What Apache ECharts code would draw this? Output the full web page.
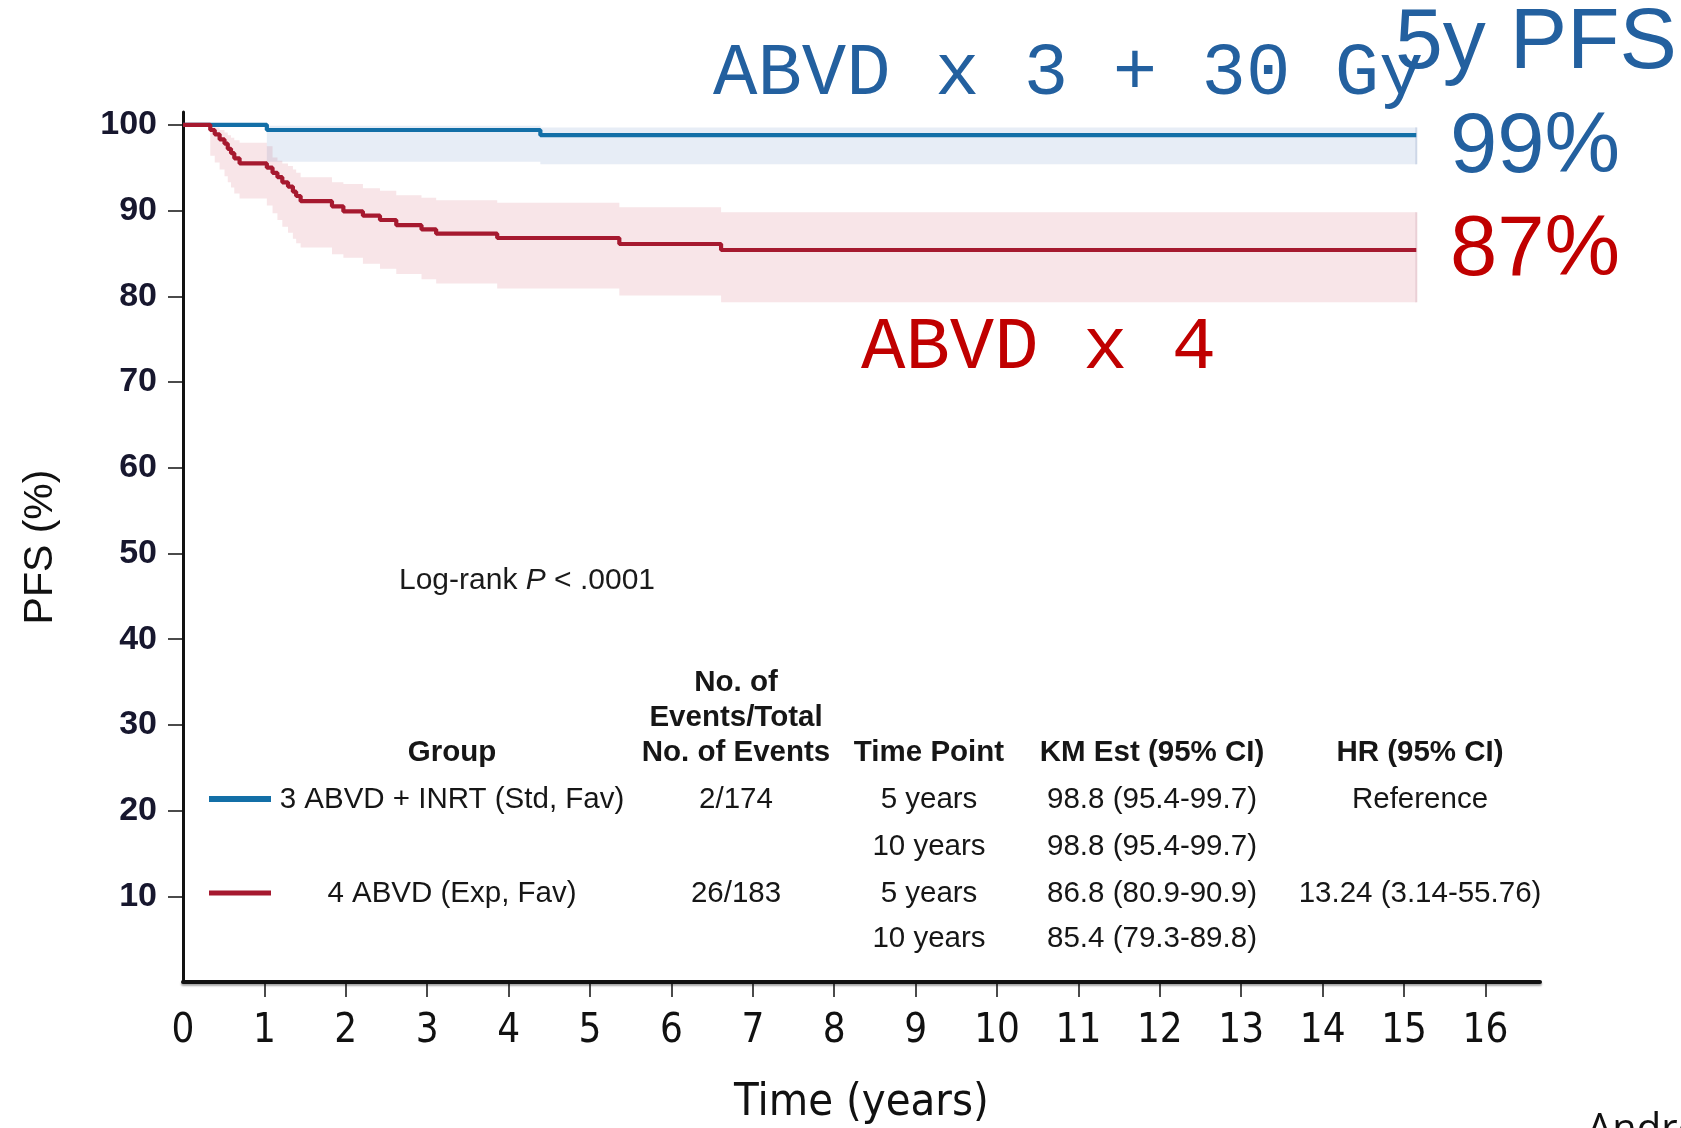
<!DOCTYPE html>
<html>
<head>
<meta charset="utf-8">
<script src="https://cdn.jsdelivr.net/npm/echarts@6/dist/echarts.min.js"></script>
<style>
  html, body { margin: 0; padding: 0; background: #ffffff; }
  #chart { width: 1681px; height: 1128px; }
</style>
</head>
<body>
<div id="chart"></div>
<script>
// Progression-free survival (Kaplan-Meier) for the two favourable-risk arms,
// with 95% confidence bands and a summary table inside the plot area.

const xTickLabels = [0, 1, 2, 3, 4, 5, 6, 7, 8, 9, 10, 11, 12, 13, 14, 15, 16];
const yTickLabels = [10, 20, 30, 40, 50, 60, 70, 80, 90, 100];

// 3 ABVD + INRT (standard arm)
const stdTime  = [0, 1.03, 4.39, 15.15];
const stdSurv  = [100, 99.4, 98.8, 98.8];
const stdUpper = [100, 99.9, 99.7, 99.7];
const stdLower = [100, 95.7, 95.4, 95.4];

// 4 ABVD (experimental arm)
const expTime  = [0, 0.335, 0.39, 0.45, 0.51, 0.55, 0.59, 0.63, 0.695, 1.03, 1.10, 1.16, 1.22, 1.29,
                  1.35, 1.39, 1.445, 1.83, 1.97, 2.21, 2.42, 2.62, 2.93, 3.11, 3.86, 5.36, 6.61, 15.15];
const expSurv  = [100, 99.4, 98.9, 98.3, 97.8, 97.2, 96.7, 96.1, 95.5, 95.0, 94.4, 93.9, 93.3, 92.8,
                  92.2, 91.7, 91.1, 90.5, 89.9, 89.4, 88.9, 88.3, 87.8, 87.3, 86.8, 86.1, 85.4, 85.4];
const expUpper = [100, 99.9, 99.7, 99.4, 99.1, 98.8, 98.5, 98.2, 97.9, 97.5, 96.2, 95.8, 95.5, 95.2,
                  94.8, 94.4, 93.9, 93.3, 93.1, 92.6, 92.3, 91.8, 91.5, 91.2, 90.9, 90.4, 89.8, 89.8];
const expLower = [100, 96.4, 95.6, 94.8, 94.0, 93.3, 92.7, 92.0, 91.4, 90.6, 89.7, 88.9, 88.1, 87.4,
                  86.7, 86.2, 85.7, 84.9, 84.5, 83.8, 83.2, 82.6, 82.0, 81.5, 80.9, 80.1, 79.3, 79.3];

// Summary table
const groupNames  = ['3 ABVD + INRT (Std, Fav)', '4 ABVD (Exp, Fav)'];
const eventCounts = ['2/174', '26/183'];
const timePoints  = ['5 years', '10 years', '5 years', '10 years'];
const kmEstimates = ['98.8 (95.4-99.7)', '98.8 (95.4-99.7)', '86.8 (80.9-90.9)', '85.4 (79.3-89.8)'];
const hazardRatio = ['Reference', '', '13.24 (3.14-55.76)', ''];

const fiveYearLabels = ['99%', '87%'];

const BLUE = '#136fa7';
const RED = '#a6192f';
const NOTE_BLUE = '#23609f';
const NOTE_RED = '#c00000';
const SANS = '"Liberation Sans", Arial, sans-serif';
const NARROW = '"Liberation Sans Narrow", "DejaVu Sans Condensed", "Liberation Sans", sans-serif';
const MONO = '"Courier New", "Liberation Mono", monospace';

const pairs = (t, v) => t.map((x, i) => [x, v[i]]);

// Confidence band: one stepped polygon between the lower and upper limits,
// closed with a thin edge at the last follow-up time.
function band(name, t, lo, hi, fill, edge) {
  return {
    type: 'custom', name: name, silent: true, z: 1,
    data: t.map((x, i) => [x, lo[i], hi[i]]),
    encode: { x: 0, y: [1, 2] },
    renderItem: function (params, api) {
      if (params.dataIndexInside !== 0) return null;
      const n = params.dataInsideLength;
      const top = [], bottom = [];
      for (let i = 0; i < n; i++) {
        const x0 = api.value(0, i);
        top.push(api.coord([x0, api.value(2, i)]));
        bottom.push(api.coord([x0, api.value(1, i)]));
        if (i < n - 1) {
          const x1 = api.value(0, i + 1);
          top.push(api.coord([x1, api.value(2, i)]));
          bottom.push(api.coord([x1, api.value(1, i)]));
        }
      }
      const a = top[top.length - 1], b = bottom[bottom.length - 1];
      return {
        type: 'group',
        children: [
          { type: 'polygon', shape: { points: top.concat(bottom.slice().reverse()) },
            style: { fill: fill, stroke: null } },
          { type: 'line', shape: { x1: a[0], y1: a[1], x2: b[0], y2: b[1] },
            style: { stroke: edge, lineWidth: 2 } }
        ]
      };
    }
  };
}

function txt(text, x, y, size, opts) {
  opts = opts || {};
  return {
    type: 'text', x: x, y: y, silent: true, z: 10,
    style: {
      text: text,
      font: (opts.weight || 'normal') + ' ' + size + 'px ' + (opts.family || SANS),
      fill: opts.color || '#161616',
      align: opts.align || 'center', verticalAlign: opts.valign || 'middle',
      textAlign: opts.align || 'center', textVerticalAlign: opts.valign || 'middle'
    }
  };
}

// Table layout
const colGroup = 452, colEvents = 736, colTime = 929, colKM = 1152, colHR = 1420;
const headRows = [683, 718, 753];
const bodyRows = [800, 847, 894, 939];
const TSIZE = 29.5;

const graphics = [
  txt('ABVD x 3 + 30 Gy', 713, 74, 74, { family: MONO, color: NOTE_BLUE, align: 'left' }),
  txt('5y PFS', 1395, 44, 86, { color: NOTE_BLUE, align: 'left' }),
  txt(fiveYearLabels[0], 1450, 149, 85, { color: NOTE_BLUE, align: 'left' }),
  txt(fiveYearLabels[1], 1450, 252, 85, { color: NOTE_RED, align: 'left' }),
  txt('ABVD x 4', 861, 348, 74, { family: MONO, color: NOTE_RED, align: 'left' }),
  {
    type: 'text', x: 399, y: 581, silent: true, z: 10,
    style: {
      text: '{n|Log-rank }{i|P}{n| < .0001}',
      align: 'left', verticalAlign: 'middle', textAlign: 'left', textVerticalAlign: 'middle',
      rich: {
        n: { fontSize: 30, fontFamily: SANS, fill: '#1a1a1a', color: '#1a1a1a' },
        i: { fontSize: 30, fontFamily: SANS, fontStyle: 'italic', fill: '#1a1a1a', color: '#1a1a1a' }
      }
    }
  },
  txt('No. of', colEvents, headRows[0], TSIZE, { weight: 'bold' }),
  txt('Events/Total', colEvents, headRows[1], TSIZE, { weight: 'bold' }),
  txt('No. of Events', colEvents, headRows[2], TSIZE, { weight: 'bold' }),
  txt('Group', colGroup, headRows[2], TSIZE, { weight: 'bold' }),
  txt('Time Point', colTime, headRows[2], TSIZE, { weight: 'bold' }),
  txt('KM Est (95% CI)', colKM, headRows[2], TSIZE, { weight: 'bold' }),
  txt('HR (95% CI)', colHR, headRows[2], TSIZE, { weight: 'bold' }),
  txt(groupNames[0], colGroup, bodyRows[0], TSIZE),
  txt(groupNames[1], colGroup, bodyRows[2], TSIZE),
  txt(eventCounts[0], colEvents, bodyRows[0], TSIZE),
  txt(eventCounts[1], colEvents, bodyRows[2], TSIZE),
  { type: 'line', silent: true, z: 10, shape: { x1: 209, y1: bodyRows[0] - 1, x2: 271, y2: bodyRows[0] - 1 },
    style: { stroke: BLUE, lineWidth: 6 } },
  { type: 'line', silent: true, z: 10, shape: { x1: 209, y1: bodyRows[2] - 1, x2: 271, y2: bodyRows[2] - 1 },
    style: { stroke: RED, lineWidth: 5 } },
  txt('André et al', 1587, 1111, 40, { family: '"Open Sans", sans-serif', color: '#111', align: 'left', valign: 'top' })
];
timePoints.forEach((s, i) => graphics.push(txt(s, colTime, bodyRows[i], TSIZE)));
kmEstimates.forEach((s, i) => graphics.push(txt(s, colKM, bodyRows[i], TSIZE)));
hazardRatio.forEach((s, i) => { if (s) graphics.push(txt(s, colHR, bodyRows[i], TSIZE)); });

const chart = echarts.init(document.getElementById('chart'), null, { renderer: 'canvas' });
chart.setOption({
  backgroundColor: '#ffffff',
  animation: false,
  grid: { left: 183, right: 141, top: 112, bottom: 146, containLabel: false, outerBoundsMode: 'none' },
  xAxis: {
    type: 'value', min: 0, max: 16.67, interval: 1,
    name: 'Time (years)', nameLocation: 'middle', nameGap: 99,
    nameTextStyle: { fontSize: 45, fontFamily: NARROW, color: '#111' },
    axisLine: { lineStyle: { color: '#111', width: 4, shadowColor: 'rgba(0,0,0,0.35)', shadowBlur: 2, shadowOffsetY: 2 } },
    axisTick: { length: 15, lineStyle: { color: '#111', width: 1.5 }, customValues: xTickLabels.filter(v => v > 0) },
    axisLabel: { customValues: xTickLabels, margin: 30, fontSize: 40, fontFamily: NARROW, color: '#111' },
    splitLine: { show: false }
  },
  yAxis: {
    type: 'value', min: 0, max: 101.5, interval: 10,
    name: 'PFS (%)', nameLocation: 'middle', nameGap: 122,
    nameTextStyle: { fontSize: 41, fontFamily: SANS, color: '#111' },
    axisLine: { show: true, lineStyle: { color: '#111', width: 3 } },
    axisTick: { show: true, length: 15, lineStyle: { color: '#111', width: 1.5 }, customValues: yTickLabels },
    axisLabel: { customValues: yTickLabels, margin: 26, fontSize: 34, fontWeight: 'bold', fontFamily: SANS, color: '#17172e' },
    splitLine: { show: false }
  },
  series: [
    band('stdBand', stdTime, stdLower, stdUpper, 'rgba(40,90,170,0.11)', '#cdd7e7'),
    band('expBand', expTime, expLower, expUpper, 'rgba(190,20,50,0.11)', '#ead0d6'),
    { type: 'line', name: '3 ABVD + INRT (Std, Fav)', data: pairs(stdTime, stdSurv), step: 'end',
      symbol: 'none', lineStyle: { color: BLUE, width: 4.2 }, z: 5 },
    { type: 'line', name: '4 ABVD (Exp, Fav)', data: pairs(expTime, expSurv), step: 'end',
      symbol: 'none', lineStyle: { color: RED, width: 4.2 }, z: 6 }
  ],
  graphic: graphics
});
</script>
</body>
</html>
